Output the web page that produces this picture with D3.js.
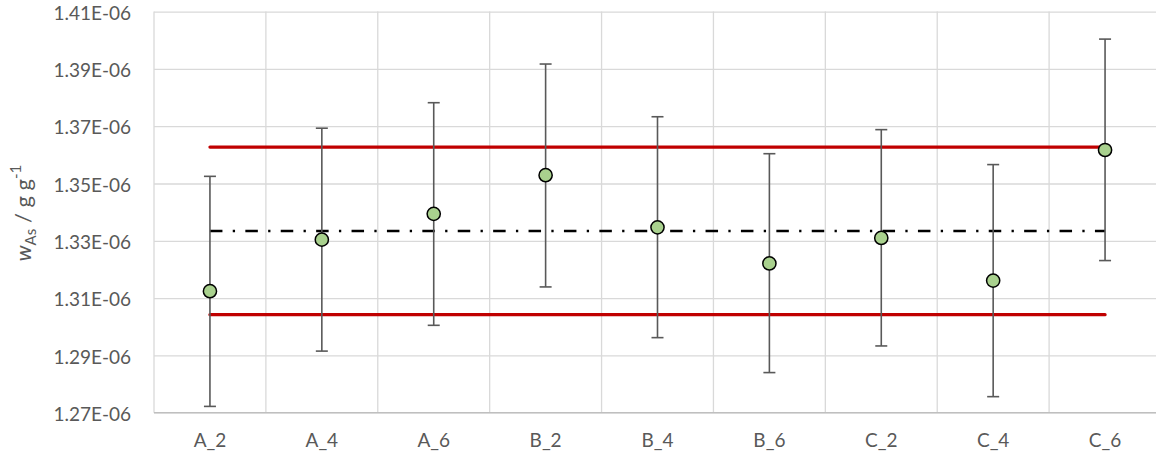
<!DOCTYPE html>
<html>
<head>
<meta charset="utf-8">
<script src="https://cdn.jsdelivr.net/npm/d3@7"></script>
<style>
  html, body { margin: 0; padding: 0; background: #fff; }
  svg { display: block; }
  text { font-family: Lato, "Open Sans", sans-serif; fill: #595959; }
</style>
</head>
<body>
<svg id="chart" width="1156" height="461"></svg>
<script>
// ---- data ----
const categories = ["A_2", "A_4", "A_6", "B_2", "B_4", "B_6", "C_2", "C_4", "C_6"];
const values = [1.3124e-6, 1.3304e-6, 1.3394e-6, 1.3529e-6, 1.3347e-6, 1.3221e-6, 1.3310e-6, 1.3161e-6, 1.3617e-6];
const upper  = [1.3525e-6, 1.3693e-6, 1.3782e-6, 1.3917e-6, 1.3733e-6, 1.3604e-6, 1.3688e-6, 1.3566e-6, 1.4004e-6];
const lower  = [1.2722e-6, 1.2915e-6, 1.3005e-6, 1.3139e-6, 1.2962e-6, 1.2840e-6, 1.2933e-6, 1.2756e-6, 1.3231e-6];
const meanValue = 1.3334e-6;
const limitUpper = 1.3627e-6;
const limitLower = 1.3042e-6;
const yTicks = [1.27e-6, 1.29e-6, 1.31e-6, 1.33e-6, 1.35e-6, 1.37e-6, 1.39e-6, 1.41e-6];
const yTickLabels = ["1.27E-06", "1.29E-06", "1.31E-06", "1.33E-06", "1.35E-06", "1.37E-06", "1.39E-06", "1.41E-06"];

// ---- layout ----
const svg = d3.select("#chart");
const plot = { left: 154, right: 1161, top: 11.6, bottom: 412.7 };
const FONT = "Lato, 'Open Sans', sans-serif";
const FS = 19;

const x = d3.scaleBand().domain(categories).range([plot.left, plot.right]).padding(0);
const cx = c => x(c) + x.bandwidth() / 2;
const y = d3.scaleLinear().domain([1.27e-6, 1.41e-6]).range([plot.bottom, plot.top]);

// horizontal gridlines + y tick labels
const gy = svg.append("g")
  .attr("transform", `translate(${plot.left},0)`)
  .call(d3.axisLeft(y).tickValues(yTicks).tickSize(-(plot.right - plot.left)).tickFormat((d, i) => yTickLabels[i]).tickPadding(23));
gy.select(".domain").remove();
gy.selectAll(".tick line").attr("stroke", "#D9D9D9").attr("stroke-width", 1.3);
gy.selectAll(".tick text").attr("font-size", FS).attr("dy", "0.4em").attr("fill", "#595959").style("font-family", FONT);

// category labels
const gx = svg.append("g")
  .attr("transform", `translate(0,${plot.bottom})`)
  .call(d3.axisBottom(x).tickSize(0).tickPadding(21));
gx.select(".domain").remove();
gx.selectAll(".tick text").attr("font-size", FS).attr("fill", "#595959").style("font-family", FONT);

// vertical gridlines (category boundaries)
svg.append("g").selectAll("line")
  .data(categories)
  .join("line")
  .attr("x1", c => x(c)).attr("x2", c => x(c))
  .attr("y1", plot.top).attr("y2", plot.bottom)
  .attr("stroke", "#D9D9D9").attr("stroke-width", 1.3);

// bottom axis line
svg.append("line")
  .attr("x1", plot.left).attr("x2", plot.right)
  .attr("y1", y(1.27e-6)).attr("y2", y(1.27e-6))
  .attr("stroke", "#BFBFBF").attr("stroke-width", 1.3);

// limit lines
const x0 = cx(categories[0]), x1 = cx(categories[categories.length - 1]);
[limitUpper, limitLower].forEach(v => {
  svg.append("line")
    .attr("x1", x0).attr("x2", x1)
    .attr("y1", y(v)).attr("y2", y(v))
    .attr("stroke", "#C00000").attr("stroke-width", 3.2).attr("stroke-linecap", "round");
});

// mean line (dash-dot)
svg.append("line")
  .attr("x1", x0).attr("x2", x1)
  .attr("y1", y(meanValue)).attr("y2", y(meanValue))
  .attr("stroke", "#000").attr("stroke-width", 2.6)
  .attr("stroke-dasharray", "12.5,10.3,2.3,10.3");

// error bars
const eb = svg.append("g").attr("stroke", "#595959").attr("stroke-width", 1.6);
categories.forEach((c, i) => {
  eb.append("line").attr("x1", cx(c)).attr("x2", cx(c)).attr("y1", y(upper[i])).attr("y2", y(lower[i]));
  eb.append("line").attr("x1", cx(c) - 6).attr("x2", cx(c) + 6).attr("y1", y(upper[i])).attr("y2", y(upper[i]));
  eb.append("line").attr("x1", cx(c) - 6).attr("x2", cx(c) + 6).attr("y1", y(lower[i])).attr("y2", y(lower[i]));
});

// points
svg.append("g").selectAll("circle")
  .data(categories)
  .join("circle")
  .attr("cx", c => cx(c))
  .attr("cy", (c, i) => y(values[i]))
  .attr("r", 6.6)
  .attr("fill", "#A9D18E")
  .attr("stroke", "#000")
  .attr("stroke-width", 1.5);

// y-axis title
const title = svg.append("text")
  .attr("transform", "translate(31,213) rotate(-90)")
  .attr("text-anchor", "middle")
  .attr("font-size", 22)
  .attr("fill", "#595959")
  .style("font-family", FONT);
title.append("tspan").attr("font-style", "italic").text("w");
title.append("tspan").attr("font-size", 15).attr("dy", 5).text("As");
title.append("tspan").attr("dy", -5).text(" / g g");
title.append("tspan").attr("font-size", 15).attr("dy", -10).text("-1");
</script>
</body>
</html>
